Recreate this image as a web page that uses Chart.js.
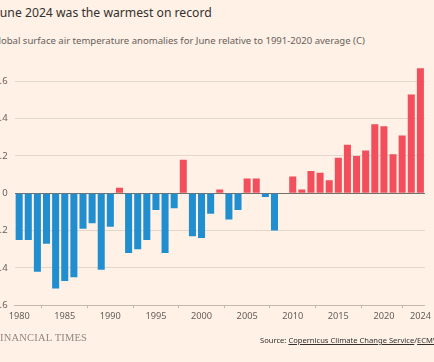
<!DOCTYPE html>
<html>
<head>
<meta charset="utf-8">
<script src="https://cdn.jsdelivr.net/npm/chart.js@4.4.1/dist/chart.umd.min.js"></script>
<style>
  html, body { margin: 0; padding: 0; background: #fff1e5; overflow: hidden; }
  body { width: 434px; height: 362px; position: relative; font-family: "Noto Sans", sans-serif; }
  .title { position: absolute; left: -3.5px; top: 3px; font-size: 12.2px; color: #33302e; white-space: nowrap; line-height: 20px; }
  .subtitle { position: absolute; left: -8.5px; top: 33px; font-size: 9.55px; color: #66605c; white-space: nowrap; line-height: 16px; }
  .chartBox { position: absolute; left: -16px; top: 0; width: 450px; height: 362px; }
  .ft { position: absolute; left: -6px; top: 331px; font-family: "Liberation Serif", serif; font-size: 10.5px; color: #8f8780; white-space: nowrap; line-height: 14px; letter-spacing: 0.2px; }
  .source { position: absolute; left: 260px; top: 334px; font-size: 7.6px; color: #33302e; white-space: nowrap; line-height: 12px; }
  .source u { text-decoration: underline; }
</style>
</head>
<body>
<div class="title">June 2024 was the warmest on record</div>
<div class="subtitle">Global surface air temperature anomalies for June relative to 1991-2020 average (C)</div>
<div class="chartBox"><canvas id="tempChart"></canvas></div>
<div class="ft">FINANCIAL TIMES</div>
<div class="source">Source: <u>Copernicus Climate Change Service</u>/<u>ECMWF</u></div>
<script>
// June anomalies vs 1991-2020
const years = [];
for (let y = 1980; y <= 2024; y++) years.push(String(y));

const anomalies = [
  -0.25, -0.25, -0.42, -0.27, -0.51, -0.47, -0.45, -0.19, -0.16, -0.41, // 1980-1989
  -0.18, 0.03, -0.32, -0.30, -0.25, -0.09, -0.32, -0.08, 0.18, -0.23,   // 1990-1999
  -0.24, -0.11, 0.02, -0.14, -0.09, 0.08, 0.08, -0.02, -0.20, 0.00,     // 2000-2009
  0.09, 0.02, 0.12, 0.11, 0.07, 0.19, 0.26, 0.20, 0.23, 0.37,           // 2010-2019
  0.36, 0.21, 0.31, 0.53, 0.67                                          // 2020-2024
];

const yTicks = [-0.6, -0.4, -0.2, 0, 0.2, 0.4, 0.6];
const xTickYears = ['1980', '1985', '1990', '1995', '2000', '2005', '2010', '2015', '2020', '2024'];

const warmColor = '#f24e5c';
const coolColor = '#208ecf';

const ctx = document.getElementById('tempChart');
new Chart(ctx, {
  type: 'bar',
  data: {
    labels: years,
    datasets: [{
      data: anomalies,
      backgroundColor: anomalies.map(v => v >= 0 ? warmColor : coolColor),
      borderWidth: 0,
      barPercentage: 0.77,
      categoryPercentage: 1.0
    }]
  },
  options: {
    responsive: true,
    maintainAspectRatio: false,
    animation: false,
    layout: { padding: { top: 62.75, left: 0, right: 8.6, bottom: 31.8 } },
    plugins: {
      legend: { display: false },
      tooltip: { enabled: false }
    },
    scales: {
      x: {
        offset: true,
        afterFit: (scale) => { scale.height = 25; },
        border: { display: true, color: '#c4b8ad', width: 1 },
        grid: {
          drawOnChartArea: false,
          drawTicks: true,
          tickLength: 3,
          color: '#c4b8ad'
        },
        ticks: {
          autoSkip: false,
          maxRotation: 0,
          padding: 3,
          color: '#66605c',
          font: { family: 'Noto Sans', size: 9.2 },
          callback: function (val) {
            const lab = this.getLabelForValue(val);
            return xTickYears.includes(lab) ? lab : null;
          }
        }
      },
      y: {
        min: -0.6,
        max: 0.7,
        afterFit: (scale) => { scale.width = 30.6; },
        afterBuildTicks: (scale) => {
          scale.ticks = yTicks.map(v => ({ value: v }));
        },
        border: { display: false },
        grid: {
          drawTicks: false,
          color: (c) => (c.tick && c.tick.value === 0) ? '#75706b' : '#e4d6cb',
          lineWidth: 1
        },
        ticks: {
          padding: 7,
          color: '#66605c',
          font: { family: 'Noto Sans', size: 9.5 },
          callback: (v) => v === 0 ? '0' : v.toFixed(1)
        }
      }
    }
  }
});
</script>
</body>
</html>
